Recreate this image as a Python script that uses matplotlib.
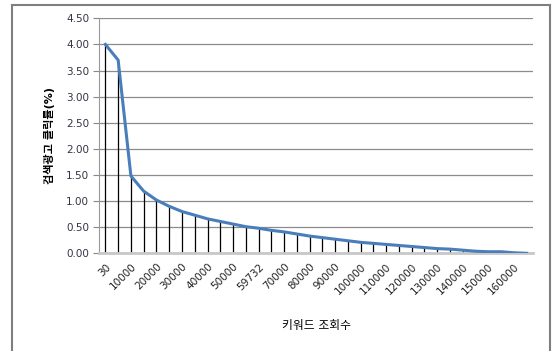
import matplotlib
matplotlib.use("Agg")
import matplotlib.pyplot as plt
from matplotlib.patches import Rectangle

plt.rcParams["font.family"] = ["DejaVu Sans", "Noto Sans CJK KR"]

# keyword search volume categories (every other one labelled, as in the source)
categories = ["30", "5000", "10000", "15000", "20000", "25000", "30000", "35000",
              "40000", "45000", "50000", "55000", "59732", "65000", "70000", "75000",
              "80000", "85000", "90000", "95000", "100000", "105000", "110000", "115000",
              "120000", "125000", "130000", "135000", "140000", "145000", "150000",
              "155000", "160000", "165000"]
ctr = [4.00, 3.70, 1.48, 1.19, 1.02, 0.90, 0.80, 0.73, 0.66, 0.61, 0.56, 0.51,
       0.48, 0.44, 0.41, 0.37, 0.33, 0.30, 0.27, 0.24, 0.21, 0.19, 0.17, 0.15,
       0.13, 0.11, 0.09, 0.08, 0.06, 0.04, 0.03, 0.03, 0.01, 0.00]
yticks = [0.0, 0.5, 1.0, 1.5, 2.0, 2.5, 3.0, 3.5, 4.0, 4.5]

W, H = 552, 351
fig = plt.figure(figsize=(W / 100, H / 100), dpi=100)
# plot area in pixels: x 99..533, y 18..253
ax = fig.add_axes([99 / W, 1 - 253.3 / H, (533 - 99) / W, (253.3 - 18.3) / H])

x = list(range(len(categories)))
ax.vlines(x, 0, ctr, color="black", lw=0.9, zorder=2)
ax.plot(x, ctr, color="#4a7ebb", lw=2.2, solid_joinstyle="round", zorder=3)

ax.set_xlim(-0.5, len(categories) - 0.5)
ax.set_ylim(0, 4.5)
ax.set_yticks(yticks)
ax.set_yticklabels([f"{v:.2f}" for v in yticks], fontsize=7.5, color="#333344")
ax.set_xticks(x[::2])
ax.set_xticklabels(categories[::2], rotation=45, ha="right", rotation_mode="anchor",
                   fontsize=7.5, color="#222222")
ax.tick_params(axis="x", length=0, pad=6)
ax.tick_params(axis="y", length=4, color="#888888", direction="out", pad=3)

ax.grid(axis="y", color="#8c8c8c", lw=0.9, zorder=1)
for side in ("top", "right"):
    ax.spines[side].set_visible(False)
ax.spines["left"].set_color("#999999")
ax.spines["bottom"].set_color("#c8c8c8")
ax.spines["bottom"].set_linewidth(2)

ax.set_ylabel("검색광고 클릭률(%)", fontsize=8, fontweight="bold", labelpad=8)
fig.text(316 / W, 1 - 325 / H, "키워드 조회수", ha="center", va="center", fontsize=8.5)

# chart area frame
fig.patches.append(Rectangle((12 / W, -0.1), (550 - 12) / W, 1 - 5 / H + 0.1,
                             transform=fig.transFigure, fill=False,
                             edgecolor="#7f7f7f", lw=1.5, clip_on=False))

fig.savefig("out.png", dpi=100)
